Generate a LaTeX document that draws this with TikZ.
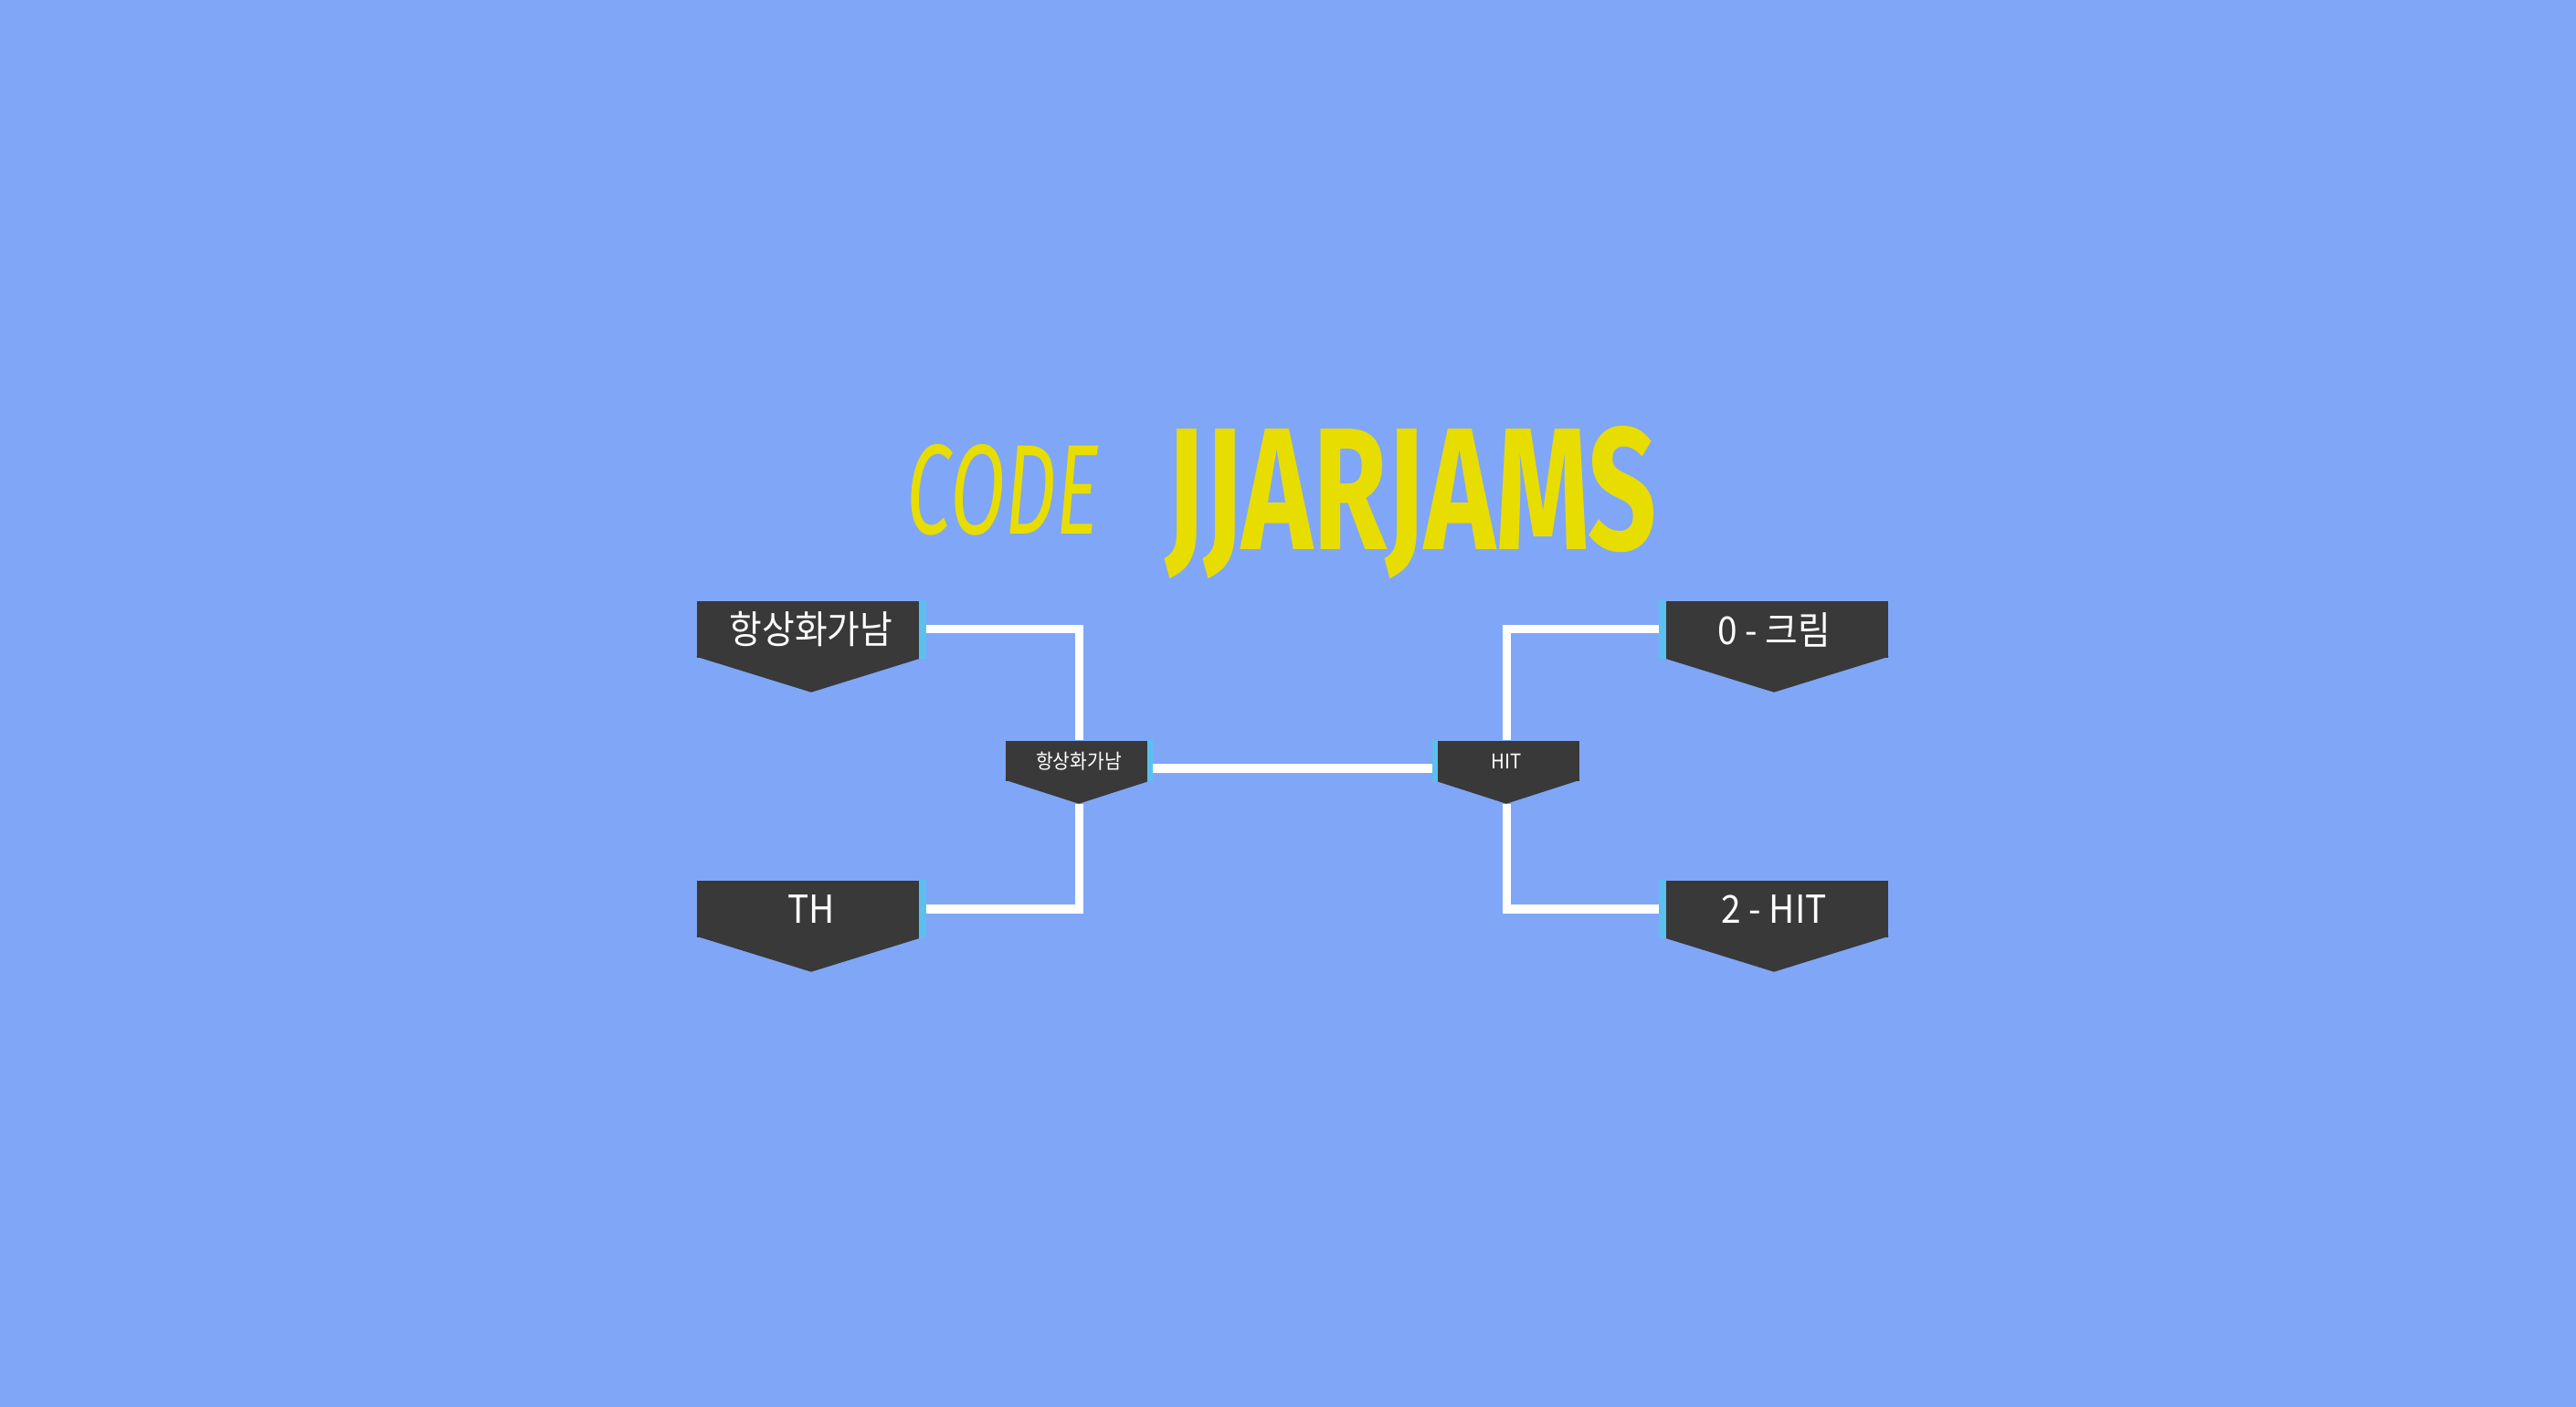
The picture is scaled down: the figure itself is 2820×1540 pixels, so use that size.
\documentclass[tikz,border=0pt]{standalone}
\usepackage{fontspec}
\setmainfont{Noto Sans CJK KR}[FakeStretch=0.92]
\newfontfamily\titlefont{Fira Sans}
\usetikzlibrary{calc}
\definecolor{bgblue}{RGB}{128,166,247}
\definecolor{boxdark}{RGB}{57,57,57}
\definecolor{stripblue}{RGB}{91,192,240}
\definecolor{titleyellow}{RGB}{232,221,0}
\tikzset{
	bigbox/.style={fill=boxdark,text=white,minimum width=2.5cm,minimum height=0.62cm,inner sep=0pt,font=\fontsize{12pt}{14pt}\selectfont},
	smallbox/.style={fill=boxdark,text=white,minimum width=1.6cm,minimum height=0.44cm,inner sep=0pt,font=\fontsize{6.3pt}{8pt}\selectfont},
	wire/.style={draw=white,line width=0.09cm}
}

\begin{document}
\begin{tikzpicture}[x=0.01cm,y=-0.01cm]
		% BACKGROUND
		\fill [bgblue] (0,0) rectangle (2820,1540);
		\useasboundingbox (0,0) rectangle (2820,1540);
		% TITLE
		\node [inner sep=0pt,text=titleyellow] (code) at (1098,536) {\resizebox{2.1cm}{0.98cm}{\titlefont\itshape CODE}};
		\node [inner sep=0pt,text=titleyellow] (jam) at (1545,550) {\resizebox{5.37cm}{1.35cm}{\titlefont\bfseries JJARJAMS}};
		% BOXES
		\node [bigbox] (hsl) at (888,689) {항상화가남};
		\node [bigbox] (th) at (888,995) {TH};
		\node [bigbox] (krm) at (1942,689) {0 - 크림};
		\node [bigbox] (hit2) at (1942,995) {2 - HIT};
		\node [smallbox] (semi) at (1181,833) {항상화가남};
		\node [smallbox] (fin) at (1649,833) {HIT};
		\coordinate (semiTip) at ($(semi.south)+(0,24)$);
		\coordinate (finTip) at ($(fin.south)+(0,24)$);
		% WIRES
		\draw [wire] (hsl.east) -| (semi.north);
		\draw [wire] (th.east) -| (semiTip);
		\draw [wire] ([yshift=-0.08cm]semi.east) -- ([yshift=-0.08cm]fin.west);
		\draw [wire] (krm.west) -| (fin.north);
		\draw [wire] (hit2.west) -| (finTip);
		% TIPS AND STRIPS
		\foreach \n/\d in {hsl/37,th/37,krm/37,hit2/37,semi/24,fin/24}
			\fill [boxdark] ($(\n.south west)+(0,-2)$) -- ($(\n.south east)+(0,-2)$) -- ($(\n.south)+(0,\d)$) -- cycle;
		\foreach \n/\w in {hsl/8,th/8,semi/6}
			\fill [stripblue] (\n.north east) rectangle ($(\n.south east)+(-\w,0)$);
		\foreach \n/\w in {krm/8,hit2/8,fin/6}
			\fill [stripblue] (\n.north west) rectangle ($(\n.south west)+(\w,0)$);
\end{tikzpicture}
\end{document}
